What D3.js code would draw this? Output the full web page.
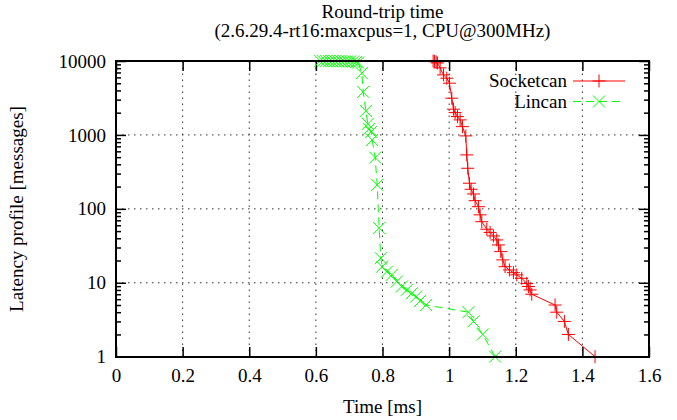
<!DOCTYPE html>
<html>
<head>
<meta charset="utf-8">
<script src="https://cdn.jsdelivr.net/npm/d3@7"></script>
<style>
  body { margin: 0; background: #fff; }
  svg text { font-family: "Liberation Serif", "DejaVu Serif", serif; fill: #000; }
</style>
</head>
<body>
<script>
const width = 677;
const height = 420;
const margin = { left: 116, top: 61, right: 28, bottom: 63 };

// values
const socketTime = [0.952, 0.956, 0.961, 0.965, 0.973, 0.983, 0.993, 1.001, 1.008, 1.013, 1.018, 1.025,
  1.033, 1.040, 1.050, 1.053, 1.056, 1.061, 1.066, 1.073, 1.078, 1.088, 1.093, 1.098, 1.113, 1.123,
  1.133, 1.143, 1.148, 1.155, 1.161, 1.168, 1.181, 1.193, 1.203, 1.218, 1.233, 1.238, 1.243, 1.248,
  1.318, 1.323, 1.346, 1.358, 1.438];
const socketCount = [10000, 9900, 9700, 9400, 8070, 6490, 5850, 5010, 3140, 2230, 2005, 1770,
  1597, 1295, 970, 537, 354, 222, 184, 159, 129, 107, 83, 67, 53, 48,
  43, 38, 32.5, 26.4, 20.4, 16.5, 14.9, 13.7, 12.8, 11.5, 9.8, 8.9, 8, 7,
  5, 4, 3, 2, 1];

const linTime = [0.613, 0.622, 0.631, 0.640, 0.649, 0.658, 0.667, 0.676, 0.685, 0.694, 0.703, 0.712,
  0.721, 0.727, 0.738, 0.742, 0.750, 0.756, 0.760, 0.766, 0.769, 0.778, 0.784, 0.790, 0.795, 0.799,
  0.813, 0.828, 0.843, 0.858, 0.873, 0.888, 0.901, 0.913, 0.931, 1.058, 1.073, 1.101, 1.138];
const linCount = [10000, 10000, 9990, 9980, 9970, 9960, 9950, 9940, 9920, 9900, 9870, 9820,
  9700, 9500, 6840, 3820, 2110, 1410, 1205, 1097, 855, 493, 211, 55, 21.5, 16.5,
  14.1, 12.8, 10.4, 8.9, 8, 7.2, 6.5, 5.7, 5, 4, 3, 2, 1];

const xTicks = [0, 0.2, 0.4, 0.6, 0.8, 1, 1.2, 1.4, 1.6];
const yTicks = [1, 10, 100, 1000, 10000];

const titleLines = ["Round-trip time", "(2.6.29.4-rt16:maxcpus=1, CPU@300MHz)"];
const xLabelText = "Time [ms]";
const yLabelText = "Latency profile [messages]";

const fontSize = "19px";

const series = [
  { name: "Socketcan", time: socketTime, count: socketCount, color: "#ff0000", dash: null, marker: "M-6.5,0H6.5M0,-6.5V6.5" },
  { name: "Lincan", time: linTime, count: linCount, color: "#00ff00", dash: "8,5", marker: "M-6,-6L6,6M-6,6L6,-6" }
];

const x0 = margin.left, x1 = width - margin.right;
const y0 = height - margin.bottom, y1 = margin.top;

const xScale = d3.scaleLinear().domain([0, 1.6]).range([x0, x1]);
const yScale = d3.scaleLog().domain([1, 10000]).range([y0 - 0.3, y1]);

const svg = d3.select("body").append("svg")
  .attr("width", width)
  .attr("height", height);

// grid
const grid = svg.append("g")
  .attr("stroke", "#333")
  .attr("stroke-width", 1)
  .attr("stroke-dasharray", "1.5,4.5");
grid.selectAll("line.vx").data(xTicks.slice(1, -1)).enter().append("line")
  .attr("x1", d => xScale(d)).attr("x2", d => xScale(d))
  .attr("y1", y0).attr("y2", y1);
grid.selectAll("line.hy").data(yTicks.slice(1, -1)).enter().append("line")
  .attr("x1", x0).attr("x2", x1)
  .attr("y1", d => yScale(d)).attr("y2", d => yScale(d));

// minor y ticks
const minor = [];
for (let e = 1; e < 10000; e *= 10) {
  for (let k = 2; k <= 9; k++) minor.push(e * k);
}

const xAxisB = d3.axisBottom(xScale).tickValues(xTicks).tickFormat(d3.format("")).tickSize(-10).tickPadding(12);
const xAxisT = d3.axisTop(xScale).tickValues(xTicks).tickFormat("").tickSize(-10);
const yAxisL = d3.axisLeft(yScale).tickValues(yTicks).tickFormat(d3.format("d")).tickSize(-10).tickPadding(10);
const yAxisR = d3.axisRight(yScale).tickValues(yTicks).tickFormat("").tickSize(-10);
const yMinorL = d3.axisLeft(yScale).tickValues(minor).tickFormat("").tickSize(-5);
const yMinorR = d3.axisRight(yScale).tickValues(minor).tickFormat("").tickSize(-5);

const axes = [
  [xAxisB, `translate(0,${y0})`],
  [xAxisT, `translate(0,${y1})`],
  [yAxisL, `translate(${x0},0)`],
  [yAxisR, `translate(${x1},0)`],
  [yMinorL, `translate(${x0},0)`],
  [yMinorR, `translate(${x1},0)`]
];
axes.forEach(([ax, tr]) => {
  const g = svg.append("g").attr("transform", tr).call(ax);
  g.select(".domain").remove();
  g.selectAll(".tick line").attr("stroke", "#000").attr("stroke-width", 1.5);
  g.selectAll(".tick text").style("font-size", fontSize).style("font-family", "Liberation Serif, serif");
});

// data
series.forEach(s => {
  const pts = s.time.map((t, i) => [t, s.count[i]]);
  svg.append("path")
    .datum(pts)
    .attr("fill", "none")
    .attr("stroke", s.color)
    .attr("stroke-width", 1)
    .attr("stroke-dasharray", s.dash)
    .attr("d", d3.line().x(d => xScale(d[0])).y(d => yScale(d[1])));
  svg.append("g").selectAll("path").data(pts).enter().append("path")
    .attr("transform", d => `translate(${xScale(d[0])},${yScale(d[1])})`)
    .attr("d", s.marker)
    .attr("stroke", s.color)
    .attr("stroke-width", 1)
    .attr("fill", "none");
});

// border
svg.append("rect")
  .attr("x", x0).attr("y", y1)
  .attr("width", x1 - x0).attr("height", y0 - y1)
  .attr("fill", "none")
  .attr("stroke", "#000")
  .attr("stroke-width", 2);

// legend
const legend = svg.append("g");
series.forEach((s, i) => {
  const ly = 81 + i * 20.5;
  legend.append("text")
    .attr("x", 567).attr("y", ly + 6)
    .attr("text-anchor", "end")
    .style("font-size", fontSize)
    .text(s.name);
  legend.append("line")
    .attr("x1", 573).attr("x2", 625)
    .attr("y1", ly).attr("y2", ly)
    .attr("stroke", s.color)
    .attr("stroke-dasharray", s.dash);
  legend.append("path")
    .attr("transform", `translate(599,${ly})`)
    .attr("d", s.marker)
    .attr("stroke", s.color)
    .attr("fill", "none");
});

// titles
svg.append("text")
  .attr("x", (x0 + x1) / 2).attr("y", 18)
  .attr("text-anchor", "middle")
  .style("font-size", fontSize)
  .text(titleLines[0]);
svg.append("text")
  .attr("x", (x0 + x1) / 2).attr("y", 37)
  .attr("text-anchor", "middle")
  .style("font-size", fontSize)
  .text(titleLines[1]);

svg.append("text")
  .attr("x", (x0 + x1) / 2).attr("y", 413)
  .attr("text-anchor", "middle")
  .style("font-size", fontSize)
  .text(xLabelText);

svg.append("text")
  .attr("transform", `translate(23,${(y0 + y1) / 2}) rotate(-90)`)
  .attr("text-anchor", "middle")
  .style("font-size", fontSize)
  .text(yLabelText);
</script>
</body>
</html>
